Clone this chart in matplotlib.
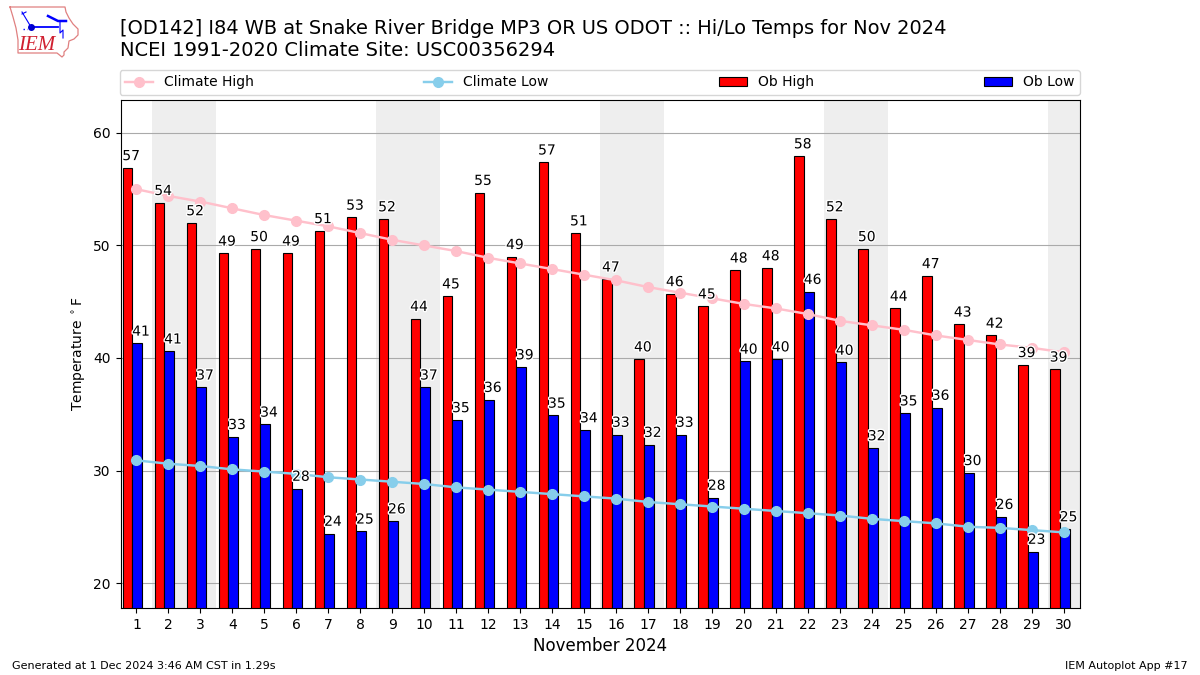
import numpy as np
import matplotlib
matplotlib.use('Agg')
import matplotlib.pyplot as plt
import matplotlib.patheffects as pe

days = np.arange(1, 31)
ob_high = [56.9, 53.8, 52.0, 49.3, 49.7, 49.3, 51.3, 52.5, 52.35, 43.5,
           45.5, 54.7, 49.0, 57.4, 51.1, 47.0, 39.9, 45.7, 44.6, 47.8,
           48.0, 57.95, 52.35, 49.7, 44.4, 47.3, 43.0, 42.0, 39.4, 39.0]
ob_low = [41.3, 40.6, 37.4, 33.0, 34.1, 28.4, 24.4, 24.6, 25.5, 37.4,
          34.5, 36.3, 39.2, 34.9, 33.6, 33.2, 32.3, 33.2, 27.6, 39.7,
          39.9, 45.9, 39.6, 32.0, 35.1, 35.6, 29.8, 25.9, 22.8, 24.8]
clim_high = [55.0, 54.4, 53.9, 53.3, 52.7, 52.2, 51.7, 51.1, 50.5, 50.0,
             49.5, 48.9, 48.4, 47.9, 47.4, 46.9, 46.3, 45.8, 45.3, 44.8,
             44.4, 43.9, 43.3, 42.9, 42.5, 42.0, 41.6, 41.2, 40.9, 40.5]
clim_low = [30.9, 30.6, 30.4, 30.1, 29.9, 29.7, 29.4, 29.2, 29.0, 28.8,
            28.5, 28.3, 28.1, 27.9, 27.7, 27.5, 27.2, 27.0, 26.8, 26.6,
            26.4, 26.2, 26.0, 25.7, 25.5, 25.3, 25.0, 24.9, 24.7, 24.5]
high_labels = [57, 54, 52, 49, 50, 49, 51, 53, 52, 44, 45, 55, 49, 57, 51,
               47, 40, 46, 45, 48, 48, 58, 52, 50, 44, 47, 43, 42, 39, 39]
low_labels = [41, 41, 37, 33, 34, 28, 24, 25, 26, 37, 35, 36, 39, 35, 34,
              33, 32, 33, 28, 40, 40, 46, 40, 32, 35, 36, 30, 26, 23, 25]
weekends = [(1.5, 3.5), (8.5, 10.5), (15.5, 17.5), (22.5, 24.5), (29.5, 30.5)]

W, H = 1200, 675
fig = plt.figure(figsize=(12, 6.75), dpi=100)
ax = fig.add_axes([120.5 / W, 1 - 608 / H, 959.5 / W, 508 / H])

for lo, hi in weekends:
    ax.axvspan(lo, hi, color='#eeeeee', lw=0, zorder=0)
ax.yaxis.grid(True, color='#aaaaaa', lw=0.8, zorder=1)
ax.set_axisbelow(True)

b1 = ax.bar(days - 0.43, ob_high, width=0.3, align='edge', color='red',
            edgecolor='k', lw=0.8, label='Ob High', zorder=2)
b2 = ax.bar(days - 0.13, ob_low, width=0.31, align='edge', color='blue',
            edgecolor='k', lw=0.8, label='Ob Low', zorder=2)
l1, = ax.plot(days, clim_high, color='pink', marker='o', ms=7, lw=1.75,
              label='Climate High', zorder=3)
l2, = ax.plot(days, clim_low, color='skyblue', marker='o', ms=7, lw=1.75,
              label='Climate Low', zorder=3)

# white halo so the numbers stay readable over the climate lines
halo = [pe.withStroke(linewidth=2, foreground='white')]
for d, v, s in zip(days, ob_high, high_labels):
    ax.text(d - 0.17, v + 0.42, str(s), ha='center', va='bottom', fontsize=10,
            zorder=4, path_effects=halo)
for d, v, s in zip(days, ob_low, low_labels):
    ax.text(d + 0.14, v + 0.42, str(s), ha='center', va='bottom', fontsize=10,
            zorder=4, path_effects=halo)

ax.set_xlim(0.5, 30.5)
ax.set_ylim(17.78, 62.93)
ax.set_xticks(days)
ax.set_yticks([20, 30, 40, 50, 60])
ax.set_xlabel('November 2024', fontsize=12)
ax.set_ylabel(r'Temperature $^\circ$F')

leg_handles = [l1, l2, b1, b2]
ax.legend(handles=leg_handles, ncol=4, mode='expand', loc='lower left',
          bbox_to_anchor=(-0.001, 1.01, 1.001, 0.05), borderaxespad=0, fontsize=10)

fig.text(120 / W, 1 - 29 / H, '[OD142] I84 WB at Snake River Bridge MP3 OR US ODOT :: Hi/Lo Temps for Nov 2024',
         fontsize=13.97, va='center')
fig.text(120 / W, 1 - 50 / H, 'NCEI 1991-2020 Climate Site: USC00356294', fontsize=14, va='center')
fig.text(12 / W, 1 - 666 / H, 'Generated at 1 Dec 2024 3:46 AM CST in 1.29s', fontsize=8, va='center')
fig.text(1188 / W, 1 - 666 / H, 'IEM Autoplot App #17', fontsize=8, va='center', ha='right')

# logo, rough redraw in pixel coords
logo = fig.add_axes([0, 1 - 60 / H, 90 / W, 60 / H])
logo.set_xlim(0, 90)
logo.set_ylim(60, 0)
logo.axis('off')
outline_x = [10, 65, 66, 69, 73, 78, 78, 74, 69, 68, 64, 64, 62, 57, 18, 18, 16, 13, 10]
outline_y = [7, 7, 12, 18, 24, 29, 35, 39, 41, 48, 52, 55, 57, 53, 53, 40, 28, 17, 7]
logo.plot(outline_x, outline_y, color='#e08080', lw=0.9)
logo.plot([31, 58], [27, 27], color='blue', lw=1.3)
logo.plot([31], [27], 'o', color='#0000cc', ms=4)
logo.plot([22, 31], [12, 27], color='blue', lw=0.8)
logo.plot([22, 26], [14, 12], color='blue', lw=0.8)
logo.plot([48, 58, 66], [16, 21, 21], color='blue', lw=1.8)
logo.plot([60, 60, 63, 63], [21, 33, 30, 38], color='blue', lw=0.8)
logo.plot([23, 27], [29, 29], ':', color='blue', lw=1)
logo.text(37, 45, 'IEM', color='#d02030', fontsize=15, family='Liberation Serif',
          style='italic', ha='center', va='center')

fig.savefig('out.png', dpi=100)
